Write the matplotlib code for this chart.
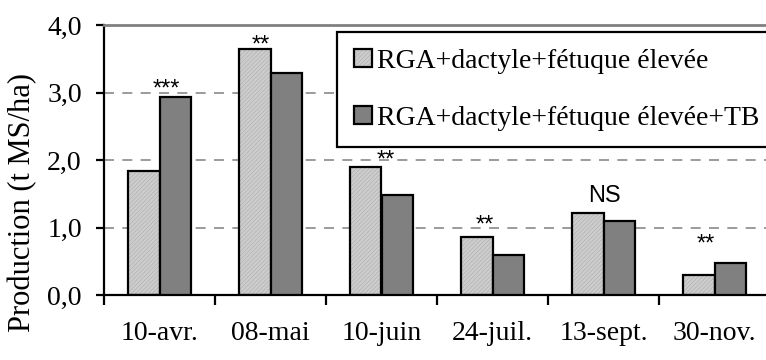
import matplotlib
matplotlib.use('Agg')
import matplotlib.pyplot as plt
from matplotlib.patches import Patch
import numpy as np

dates = ['10-avr.', '08-mai', '10-juin', '24-juil.', '13-sept.', '30-nov.']
prod_mix = [1.84, 3.64, 1.90, 0.86, 1.22, 0.30]
prod_mix_tb = [2.93, 3.29, 1.48, 0.59, 1.10, 0.47]
signif = ['***', '**', '**', '**', 'NS', '**']
signif_y = [3.15, 3.81, 2.10, 1.14, 1.51, 0.86]   # centre of the marks
signif_dx = [0.06, -0.085, 0.04, -0.07, 0.01, -0.08]
labels = ['RGA+dactyle+fétuque élevée', 'RGA+dactyle+fétuque élevée+TB']

plt.rcParams['font.family'] = ['Liberation Serif', 'DejaVu Serif']
plt.rcParams['hatch.linewidth'] = 0.5

W, H = 766, 360
fig = plt.figure(figsize=(W / 100, H / 100), dpi=100)
ax = fig.add_axes([104 / W, 65 / H, 666 / W, 270 / H])

x = np.arange(len(dates))
bw = 0.28
light = '#cdcdcd'
dark = '#808080'

# hatched light bars: fill + hatch first, then the black outline
ax.bar(x - bw / 2, prod_mix, bw, color=light, edgecolor='#b2b2b2', hatch='////////',
       linewidth=0, zorder=2)
ax.bar(x - bw / 2, prod_mix, bw, fill=False, edgecolor='black', linewidth=1.6, zorder=3)
ax.bar(x + bw / 2, prod_mix_tb, bw, color=dark, edgecolor='black', linewidth=1.6, zorder=3)

for i, s in enumerate(signif):
    if s == 'NS':
        ax.text(x[i] + signif_dx[i], signif_y[i] - 0.125, s, ha='center', va='baseline',
                fontsize=17, family=['Liberation Sans', 'DejaVu Sans'])
    else:
        ax.text(x[i] + signif_dx[i], signif_y[i] - 0.2, s, ha='center', va='baseline',
                fontsize=17, family=['Liberation Sans', 'DejaVu Sans'])

ax.set_xlim(-0.5, 5.5)
ax.set_ylim(0, 4)
ax.set_yticks([0, 1, 2, 3, 4])
ax.set_yticklabels(['0,0', '1,0', '2,0', '3,0', '4,0'], fontsize=20)
ax.set_xticks(x)
ax.set_xticklabels(dates, fontsize=20)
ax.set_xticks(np.arange(-0.5, 6, 1), minor=True)
ax.tick_params(axis='x', which='major', length=0, pad=19)
ax.tick_params(axis='x', which='minor', length=7.5, width=1.6, direction='out')
ax.tick_params(axis='y', length=6, width=1.6, direction='out', pad=10)

for yv in [1, 2, 3]:
    ax.axhline(yv, color='#8a8a8a', linewidth=1.2, linestyle=(0, (6, 5)), zorder=1)

ax.spines['left'].set_linewidth(1.6)
ax.spines['bottom'].set_linewidth(1.6)
ax.spines['top'].set_color('#808080')
ax.spines['top'].set_linewidth(2)
ax.spines['right'].set_visible(False)

fig.text(23 / W, 157 / H, 'Production (t MS/ha)', rotation=90, fontsize=22,
         ha='center', va='center')

# legend: light handle = hatched fill + black outline, stacked
h1_fill = Patch(facecolor=light, edgecolor='#b2b2b2', linewidth=0, hatch='////////')
h1_edge = Patch(fill=False, edgecolor='black', linewidth=1.6)
h2 = Patch(facecolor=dark, edgecolor='black', linewidth=1.6)
leg = ax.legend([(h1_fill, h1_edge), h2], labels, loc='upper left',
                bbox_to_anchor=(233 / 666, 263 / 270),
                fontsize=20, frameon=True, fancybox=False, edgecolor='black', framealpha=1,
                handlelength=0.65, handleheight=0.65, handletextpad=0.2,
                labelspacing=1.15, borderpad=0.6, borderaxespad=0)
leg.get_frame().set_linewidth(1.6)
leg.set_zorder(5)

fig.savefig('out.png', dpi=100)
